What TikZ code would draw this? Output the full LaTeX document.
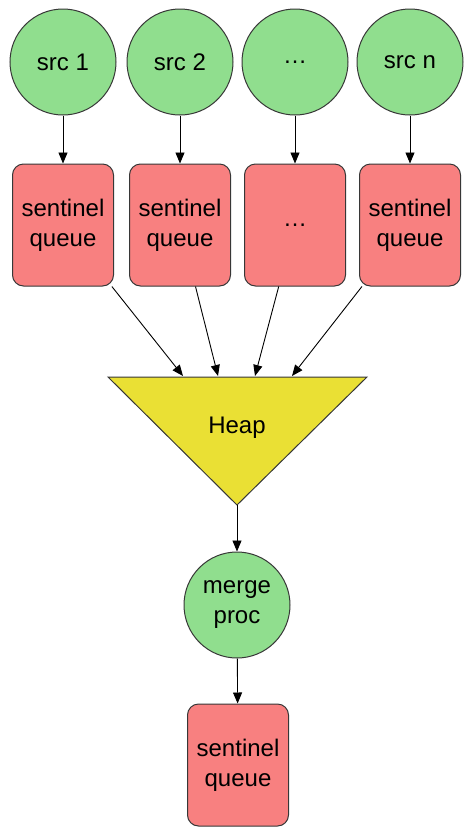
\documentclass[tikz,border=0pt]{standalone}
\usepackage{fontspec}
\setmainfont{Liberation Sans}
\definecolor{SrcGreen}{RGB}{144,222,142}
\definecolor{QueueRed}{RGB}{248,128,128}
\definecolor{HeapYellow}{RGB}{234,224,52}
\definecolor{EdgeGray}{RGB}{55,55,55}
\usepackage{tikz}
\usetikzlibrary{arrows.meta}

\begin{document}
\begin{tikzpicture}[x=1pt, y=-1pt, font=\fontsize{24}{30}\selectfont,
	srcnode/.style={circle, draw=EdgeGray, line width=1pt, fill=SrcGreen,
		minimum size=106pt, inner sep=0pt, align=center},
	queuebox/.style={rectangle, rounded corners=11pt, draw=EdgeGray, line width=1pt,
		fill=QueueRed, minimum width=101pt, minimum height=122pt, align=center},
	flow/.style={-{Triangle[length=11pt, width=9pt]}, black, line width=0.9pt}]
	\useasboundingbox (0,0) rectangle (464,828);

	% fuentes y colas
	\foreach \x/\lbl/\q [count=\i] in {63/src 1/sentinel\\queue,
		180/src 2/sentinel\\queue, 295/\ldots/\ldots, 410/src n/sentinel\\queue}{
		\node[srcnode] (s\i) at (\x,62) {\lbl};
		\node[queuebox] (q\i) at (\x,225) {\q};
		\draw[flow] (s\i) -- (q\i);
	}

	% heap
	\coordinate (hl) at (108,377);
	\coordinate (hr) at (367,377);
	\coordinate (ha) at (237,505);
	\draw[EdgeGray, line width=1pt, fill=HeapYellow] (hl) -- (hr) -- (ha) -- cycle;
	\node (heap) at (237,428) {Heap};
	\foreach \i/\x in {1/183, 2/218, 3/255, 4/292}{
		\coordinate (h\i) at (\x,376);
		\draw[flow] (q\i) -- (h\i);
	}

	% fusion
	\node[srcnode] (merge) at (237,605) {merge\\proc};
	\node[queuebox] (out) at (238,765) {sentinel\\queue};
	\draw[flow] (ha) -- (merge);
	\draw[flow] (merge) -- (out);
\end{tikzpicture}
\end{document}
